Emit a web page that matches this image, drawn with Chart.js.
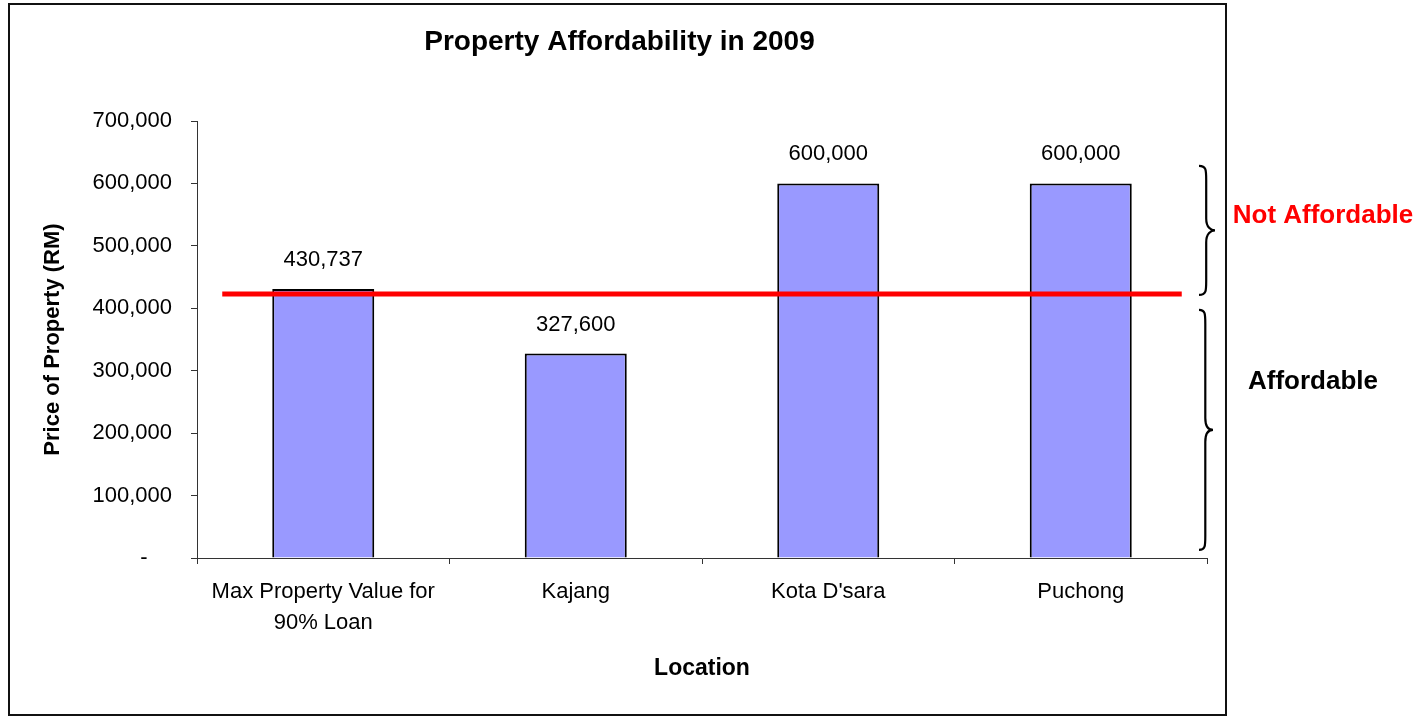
<!DOCTYPE html>
<html>
<head>
<meta charset="utf-8">
<script src="https://cdn.jsdelivr.net/npm/chart.js@4/dist/chart.umd.min.js"></script>
<style>
  html, body { margin: 0; padding: 0; background: #fff; }
  #wrap { width: 1427px; height: 717px; position: relative; }
</style>
</head>
<body>
<div id="wrap"><canvas id="c"></canvas></div>
<script>
const categories = [['Max Property Value for', '90% Loan'], 'Kajang', "Kota D'sara", 'Puchong'];
const prices = [430737, 327600, 600000, 600000];
const yTickLabels = ['-    ', '100,000', '200,000', '300,000', '400,000', '500,000', '600,000', '700,000'];
const affordabilityLimit = 423000;
const chartTitle = 'Property Affordability in 2009';
const yAxisTitle = 'Price of Property (RM)';
const xAxisTitle = 'Location';
const bandLabels = ['Not Affordable', 'Affordable'];

const FONT = '"Liberation Sans", Arial, sans-serif';

const decorPlugin = {
  id: 'decor',
  beforeDraw(chart) {
    const ctx = chart.ctx;
    ctx.save();
    ctx.fillStyle = '#ffffff';
    ctx.fillRect(0, 0, chart.width, chart.height);
    ctx.strokeStyle = '#111';
    ctx.lineWidth = 2;
    ctx.strokeRect(9, 4, 1217, 711);
    ctx.restore();
  },
  afterDatasetsDraw(chart) {
    const ctx = chart.ctx;
    const x = chart.scales.x, y = chart.scales.y;
    const meta = chart.getDatasetMeta(0);
    ctx.save();
    // data labels
    ctx.font = '22px ' + FONT;
    ctx.fillStyle = '#000';
    ctx.textAlign = 'center';
    ctx.textBaseline = 'middle';
    meta.data.forEach((bar, i) => {
      ctx.fillText(prices[i].toLocaleString('en-US'), bar.x, bar.y - 29);
    });
    // red threshold line
    const ly = y.getPixelForValue(affordabilityLimit);
    ctx.strokeStyle = '#ff0000';
    ctx.lineWidth = 5;
    ctx.beginPath();
    ctx.moveTo(x.getPixelForValue(-0.4), ly);
    ctx.lineTo(x.getPixelForValue(3.4), ly);
    ctx.stroke();

    // braces
    function brace(x0, top, bottom, depth) {
      const mid = (top + bottom) / 2;
      const xb = x0 + depth * 0.45;
      const xt = x0 + depth;
      ctx.beginPath();
      ctx.moveTo(x0, top);
      ctx.bezierCurveTo(xb, top, xb, top + 4, xb, top + 14);
      ctx.lineTo(xb, mid - 12);
      ctx.bezierCurveTo(xb, mid - 3, xt - 4, mid, xt, mid);
      ctx.bezierCurveTo(xt - 4, mid, xb, mid + 3, xb, mid + 12);
      ctx.lineTo(xb, bottom - 14);
      ctx.bezierCurveTo(xb, bottom - 4, xb, bottom, x0, bottom);
      ctx.stroke();
    }
    ctx.strokeStyle = '#000';
    ctx.lineWidth = 2.2;
    const right = chart.chartArea.right;
    brace(right - 8, y.getPixelForValue(628000), ly + 1, 16);
    brace(right - 8, ly + 16, y.getPixelForValue(13000), 14);

    // band labels
    ctx.font = 'bold 26px ' + FONT;
    ctx.textAlign = 'center';
    ctx.textBaseline = 'middle';
    ctx.fillStyle = '#ff0000';
    ctx.fillText(bandLabels[0], 1323, 216);
    ctx.fillStyle = '#000';
    ctx.fillText(bandLabels[1], 1313, 382);
    ctx.restore();
  }
};

new Chart(document.getElementById('c'), {
  type: 'bar',
  data: {
    labels: categories,
    datasets: [{
      data: prices,
      backgroundColor: '#9999ff',
      borderColor: '#000000',
      borderWidth: 2,
      barPercentage: 0.404,
      categoryPercentage: 1.0
    }]
  },
  options: {
    responsive: true,
    maintainAspectRatio: false,
    animation: false,
    layout: { padding: { left: 32, right: 220, top: 0, bottom: 0 } },
    plugins: {
      legend: { display: false },
      tooltip: { enabled: false },
      title: {
        display: true,
        text: chartTitle,
        color: '#000',
        font: { family: FONT, size: 28, weight: 'bold', lineHeight: 1.2 },
        padding: { top: 25, bottom: 62.4 }
      }
    },
    scales: {
      x: {
        offset: true,
        grid: { display: true, drawOnChartArea: false, drawTicks: true, tickLength: 6, color: '#333', offset: true },
        border: { display: true, color: '#333', width: 1 },
        ticks: {
          color: '#000',
          padding: 12,
          maxRotation: 0,
          autoSkip: false,
          font: { family: FONT, size: 22, lineHeight: '31px' }
        },
        title: {
          display: true,
          text: xAxisTitle,
          color: '#000',
          font: { family: FONT, size: 23, weight: 'bold', lineHeight: 1.2 },
          padding: { top: 0, bottom: 35 }
        },
        afterFit(scale) { scale.height = 159; }
      },
      y: {
        min: 0,
        max: 700000,
        grid: { display: true, drawOnChartArea: false, drawTicks: true, tickLength: 6, color: '#333' },
        border: { display: true, color: '#333', width: 1 },
        ticks: {
          stepSize: 100000,
          color: '#000',
          padding: 19,
          font: { family: FONT, size: 22 },
          callback: (v, i) => yTickLabels[i]
        },
        title: {
          display: true,
          text: yAxisTitle,
          color: '#000',
          font: { family: FONT, size: 22, weight: 'bold', lineHeight: 1.2 },
          padding: { top: 8, bottom: 0 }
        },
        afterFit(scale) { scale.width = 165; }
      }
    }
  },
  plugins: [decorPlugin]
});
</script>
</body>
</html>
